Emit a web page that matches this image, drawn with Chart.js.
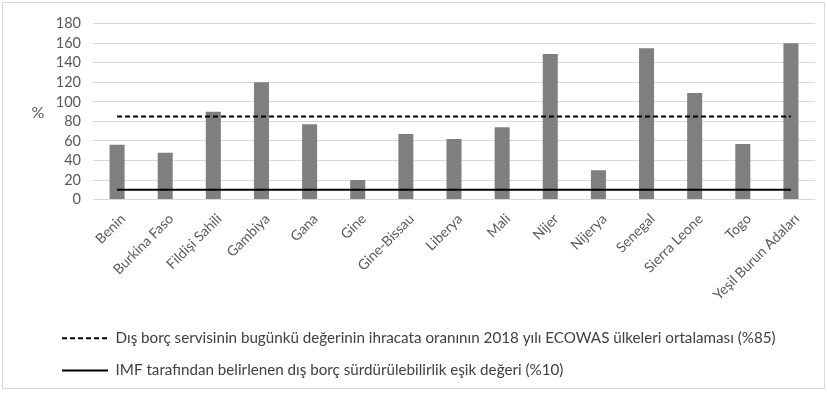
<!DOCTYPE html>
<html lang="tr">
<head>
    <meta charset="UTF-8">
    <title>ECOWAS Dış Borç Servisi</title>
    <script src="https://cdn.jsdelivr.net/npm/chart.js"></script>
    <style>
        body {
            margin: 0;
            padding: 0;
            background: #ffffff;
        }
        #chartBox {
            position: absolute;
            left: 2px;
            top: 2px;
            width: 821px;
            height: 385px;
            border: 1px solid #d9d9d9;
        }
    </style>
</head>
<body>
    <div id="chartBox">
        <canvas id="debtChart" width="821" height="385"></canvas>
    </div>

    <script>
        // ülkeler ve değerler
        const countries = ['Benin', 'Burkina Faso', 'Fildişi Sahili', 'Gambiya', 'Gana', 'Gine', 'Gine-Bissau',
            'Liberya', 'Mali', 'Nijer', 'Nijerya', 'Senegal', 'Sierra Leone', 'Togo', 'Yeşil Burun Adaları'];
        const debtRatio = [56, 48, 90, 120, 77, 20, 67, 62, 74, 149, 30, 155, 109, 57, 160];
        const ecowasAverage = [85, 85, 85, 85, 85, 85, 85, 85, 85, 85, 85, 85, 85, 85, 85];
        const imfThreshold = [10, 10, 10, 10, 10, 10, 10, 10, 10, 10, 10, 10, 10, 10, 10];
        const yTicks = [0, 20, 40, 60, 80, 100, 120, 140, 160, 180];

        const averageLabel = 'Dış borç servisinin bugünkü değerinin ihracata oranının 2018 yılı ECOWAS ülkeleri ortalaması (%85)';
        const thresholdLabel = 'IMF tarafından belirlenen dış borç sürdürülebilirlik eşik değeri (%10)';

        Chart.defaults.font.family = 'Lato, "Open Sans", sans-serif';
        Chart.defaults.color = '#595959';

        // "%" yazısı yatay duruyor, o yüzden kendimiz çiziyoruz
        const percentSign = {
            id: 'percentSign',
            afterDraw: (chart) => {
                const ctx = chart.ctx;
                ctx.save();
                ctx.font = '16px Lato, sans-serif';
                ctx.fillStyle = '#595959';
                ctx.textAlign = 'center';
                ctx.textBaseline = 'middle';
                ctx.fillText('%', 35, 110);
                ctx.restore();
            }
        };

        // point style legend loses the dash, put it back from the dataset
        const legendItems = (chart) => {
            const items = Chart.defaults.plugins.legend.labels.generateLabels(chart);
            return items.map(item => {
                item.lineDash = chart.data.datasets[item.datasetIndex].borderDash || [];
                item.lineWidth = 2;
                return item;
            });
        };

        const debtChart = new Chart(document.getElementById('debtChart'), {
            type: 'bar',
            data: {
                labels: countries,
                datasets: [{
                    type: 'line',
                    label: averageLabel,
                    data: ecowasAverage,
                    borderColor: '#000000',
                    backgroundColor: '#000000',
                    borderWidth: 2,
                    borderDash: [5, 3],
                    pointRadius: 0,
                    pointStyle: 'line',
                    order: 1
                }, {
                    type: 'line',
                    label: thresholdLabel,
                    data: imfThreshold,
                    borderColor: '#000000',
                    backgroundColor: '#000000',
                    borderWidth: 2,
                    pointRadius: 0,
                    pointStyle: 'line',
                    order: 1
                }, {
                    label: 'oran',
                    data: debtRatio,
                    backgroundColor: '#7f7f7f',
                    barPercentage: 0.39,
                    categoryPercentage: 0.8,
                    order: 2
                }]
            },
            options: {
                responsive: false,
                animation: false,
                layout: {
                    padding: { left: 42, right: 9, top: 8, bottom: 0 }
                },
                plugins: {
                    tooltip: { enabled: false },
                    legend: {
                        position: 'bottom',
                        align: 'start',
                        labels: {
                            generateLabels: legendItems,
                            filter: (item) => item.datasetIndex < 2,
                            usePointStyle: true,
                            pointStyleWidth: 46,
                            boxWidth: 46,
                            boxHeight: 14,
                            padding: 17,
                            color: '#404040',
                            font: { size: 15.2 }
                        }
                    }
                },
                scales: {
                    x: {
                        grid: { display: false },
                        border: { display: false },
                        afterFit: (scale) => {
                            scale.height = scale.height + 7;
                        },
                        ticks: {
                            maxRotation: 45,
                            minRotation: 45,
                            autoSkip: false,
                            labelOffset: 6,
                            font: { size: 14 }
                        }
                    },
                    y: {
                        min: 0,
                        max: 180,
                        afterBuildTicks: (scale) => {
                            scale.ticks = yTicks.map(v => ({ value: v }));
                        },
                        afterFit: (scale) => {
                            scale.width = 48;
                        },
                        grid: { color: '#d9d9d9', lineWidth: 1, drawTicks: false },
                        border: { display: false },
                        ticks: {
                            autoSkip: false,
                            padding: 12,
                            font: { size: 14.5 }
                        }
                    }
                }
            },
            plugins: [percentSign]
        });
    </script>
</body>
</html>
